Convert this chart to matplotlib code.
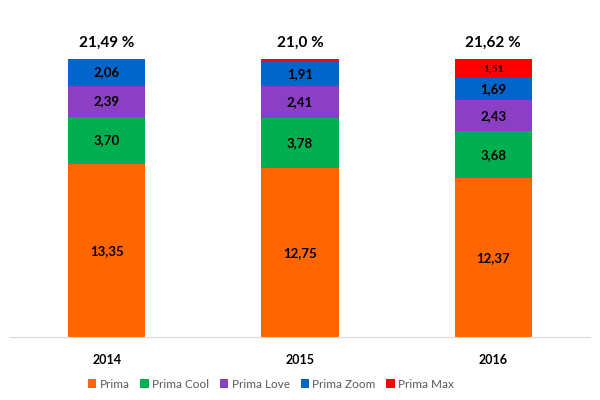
import matplotlib.pyplot as plt
import numpy as np

plt.rcParams['font.family'] = ['Lato', 'DejaVu Sans']

years = ['2014', '2015', '2016']
prima = [13.35, 12.75, 12.37]
prima_cool = [3.70, 3.78, 3.68]
prima_love = [2.39, 2.41, 2.43]
prima_zoom = [2.06, 1.91, 1.69]
prima_max = [0.0, 0.15, 1.51]
totals = ['21,49 %', '21,0 %', '21,62 %']

series = [
    ('Prima', prima, '#FF6600'),
    ('Prima Cool', prima_cool, '#00B050'),
    ('Prima Love', prima_love, '#8B3FC4'),
    ('Prima Zoom', prima_zoom, '#0066CC'),
    ('Prima Max', prima_max, '#FF0000'),
]

fig = plt.figure(figsize=(6, 4), dpi=100)
ax = fig.add_axes([10 / 600, 1 - 337 / 400, 580 / 600, 337 / 400])

x = np.arange(len(years))
sums = np.sum([s[1] for s in series], axis=0)
bottom = np.zeros(len(years))
for name, vals, color in series:
    share = np.array(vals) / sums
    ax.bar(x, share, 0.4, bottom=bottom, color=color, label=name)
    for i, v in enumerate(vals):
        if v > 1:
            size = 7.5 if name == 'Prima Max' else 9.5
            ax.text(x[i], bottom[i] + share[i] / 2, f'{v:.2f}'.replace('.', ','),
                    ha='center', va='center', fontsize=size, fontweight='bold')
    bottom += share

for i, t in enumerate(totals):
    ax.text(x[i], 1.06, t, ha='center', va='center', fontsize=11, fontweight='bold')

ax.set_xlim(-0.5, 2.5)
ax.set_ylim(0, 337 / 278)
ax.set_xticks(x)
ax.set_xticklabels(years, fontsize=9, fontweight='bold')
ax.tick_params(length=0, pad=12)
ax.set_yticks([])
for side in ['top', 'right', 'left']:
    ax.spines[side].set_visible(False)
ax.spines['bottom'].set_color('#D9D9D9')

ax.legend(loc='center', bbox_to_anchor=(0.45, -0.14), ncol=5, frameon=False,
          fontsize=8.5, handlelength=0.7, handleheight=0.7, handletextpad=0.3,
          columnspacing=0.9, labelcolor='#595959')

fig.savefig('out.png', dpi=100)
